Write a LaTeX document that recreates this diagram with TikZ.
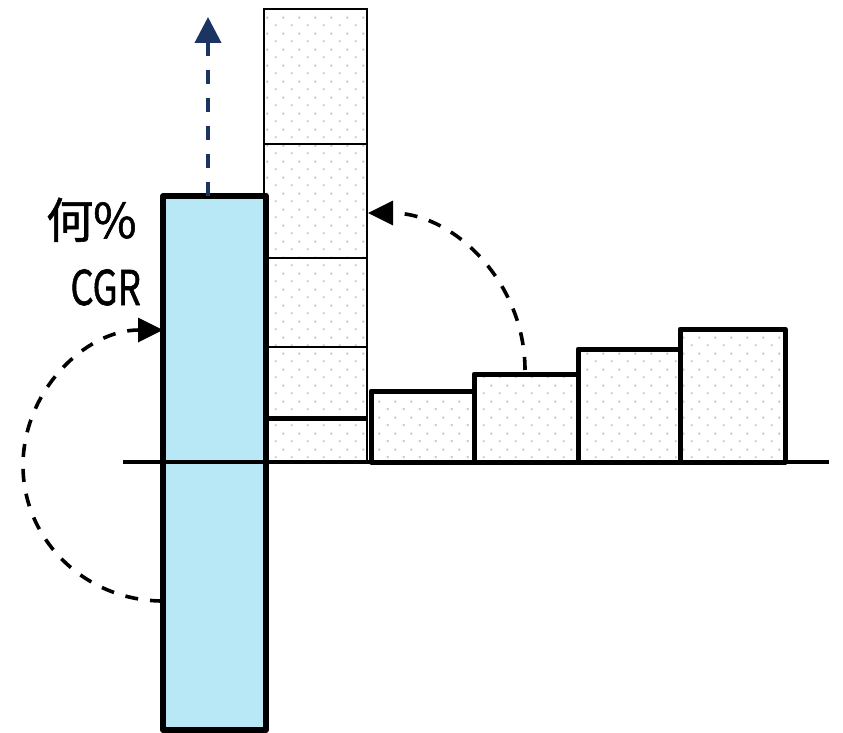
\documentclass[tikz,border=0pt]{standalone}
\usepackage{fontspec}
\newfontfamily\jpfont[FakeBold=1.2]{Noto Sans CJK JP}
\usetikzlibrary{arrows.meta,patterns.meta}

\definecolor{barblue}{HTML}{B8E8F5}
\definecolor{navyline}{HTML}{1B3461}
\definecolor{dotgray}{HTML}{C4C4C4}

% sparse staggered dot texture for the chart blocks
\tikzdeclarepattern{
  name=sparsedots,
  type=uncolored,
  bounding box={(0pt,0pt) and (16pt,16pt)},
  tile size={(16pt,16pt)},
  code={
    \fill (3pt,3pt) rectangle ++(2pt,2pt);
    \fill (11pt,11pt) rectangle ++(2pt,2pt);
  }
}

\tikzset{
  thinblock/.style={line width=1.6pt, pattern=sparsedots, pattern color=dotgray},
  thickblock/.style={line width=5pt, line join=round, pattern=sparsedots, pattern color=dotgray},
  bluebar/.style={line width=5.2pt, line join=round, fill=barblue},
  baseaxis/.style={line width=4.6pt},
  dasharc/.style={line width=3.6pt, dash pattern=on 13pt off 12pt,
    -{Triangle[length=25pt,width=24pt]}},
  navyarrow/.style={navyline, line width=4pt, dash pattern=on 14pt off 14pt,
    -{Triangle[length=26pt,width=26pt]}},
  label/.style={inner sep=0pt, font=\jpfont\fontsize{48}{48}\selectfont},
}

\begin{document}
\begin{tikzpicture}[x=1pt,y=-1pt]
\useasboundingbox (0,0) rectangle (843,733);

% stacked column
\draw[thinblock] (264,9) rectangle (367,462);
\draw[line width=1.6pt] (264,144) -- (367,144);
\draw[line width=1.6pt] (264,258) -- (367,258);
\draw[line width=1.6pt] (264,347) -- (367,347);
\draw[line width=5pt] (266,418) -- (367,418);

% stepped blocks
\draw[thickblock] (371,391) rectangle (474,462);
\draw[thickblock] (474,374) rectangle (578,462);
\draw[thickblock] (578,349) rectangle (680,462);
\draw[thickblock] (680,329) rectangle (785,462);

% blue bar
\draw[bluebar] (163,196) rectangle (266,730);

% baseline
\coordinate (axisL) at (123,462);
\coordinate (axisR) at (829,462);
\draw[baseaxis] (axisL) -- (axisR);

% labels
\node[label, anchor=base west, xscale=0.98] (pct) at (46,238) {何\%};
\node[label, anchor=base east, xscale=0.76] (cgr) at (141,305) {CGR};

% arrows
\coordinate (bartop) at (208,196);
\coordinate (uptip) at (208,17);
\draw[navyarrow] (bartop) -- (uptip);

\coordinate (blocktop) at (525,370);
\draw[dasharc] (blocktop) arc[start angle=0, end angle=-90, radius=157];

\coordinate (barlow) at (163,601);
\draw[dasharc] (barlow) arc[start angle=90, end angle=270, x radius=140, y radius=135.5];
\end{tikzpicture}
\end{document}
